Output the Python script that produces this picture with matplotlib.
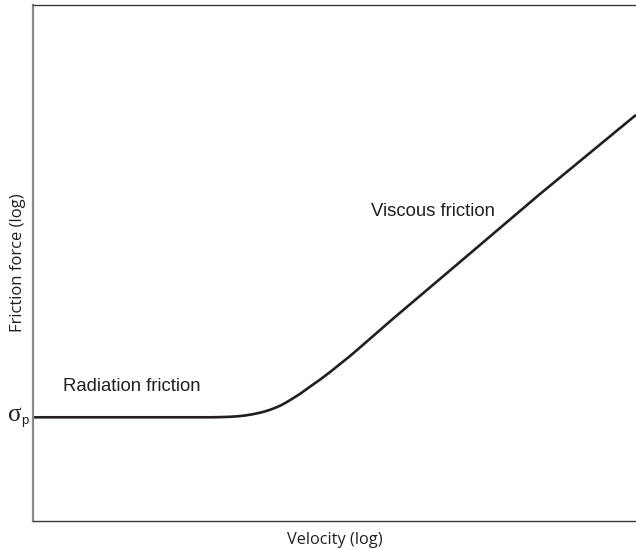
import matplotlib
matplotlib.use("Agg")
import matplotlib.pyplot as plt

# log velocity / log friction (arbitrary units)
log_velocity = [0, 1.94, 2.94, 3.10, 3.27, 3.40, 3.52, 3.65, 3.77, 3.85, 3.93, 4.01,
                4.10, 4.18, 4.26, 4.43, 4.59, 4.76, 4.93, 5.09, 5.26, 5.42, 5.97,
                6.92, 8.39, 10.0]
log_friction = [2.01, 2.01, 2.01, 2.013, 2.02, 2.03, 2.045, 2.07, 2.10, 2.125, 2.155,
                2.19, 2.235, 2.285, 2.34, 2.465, 2.60, 2.74, 2.89, 3.04, 3.20, 3.36,
                3.92, 4.86, 6.32, 7.87]

fig = plt.figure(figsize=(6.36, 5.5), dpi=100)
ax = fig.add_axes([33/636, 29/550, 603/636, 516/550])
ax.set_xlim(0, 10)
ax.set_ylim(0, 10)

ax.plot(log_velocity, log_friction, color="#231f20", lw=1.9,
        solid_capstyle="butt", solid_joinstyle="round")

ax.set_xticks([])
ax.set_yticks([])
ax.spines["right"].set_visible(False)
ax.spines["left"].set_color("#8a8a8a")
ax.spines["left"].set_linewidth(1.6)
ax.spines["top"].set_color("#3a3a3a")
ax.spines["bottom"].set_color("#3a3a3a")
ax.spines["top"].set_linewidth(1.0)
ax.spines["bottom"].set_linewidth(1.0)

ax.set_xlabel("Velocity (log)", fontsize=11.8, family="Open Sans", color="#231f20", labelpad=8)
ax.set_ylabel("Friction force (log)", fontsize=12, family="Open Sans", color="#231f20", labelpad=5)

ax.text(0.5, 2.6, "Radiation friction", fontsize=13.3, family="Liberation Sans",
        color="#231f20", ha="left", va="center")
ax.text(5.6, 6.0, "Viscous friction", fontsize=13.3, family="Liberation Sans",
        color="#231f20", ha="left", va="center")

# sigma_p label left of axis
fig.text(8/636, 1 - 421/550, "σ", fontsize=18, family="Liberation Serif",
         color="#231f20", ha="left", va="baseline")
fig.text(21.5/636, 1 - 424/550, "p", fontsize=9.5, family="Liberation Sans",
         color="#231f20", ha="left", va="baseline")

fig.savefig("out.png", dpi=100)
